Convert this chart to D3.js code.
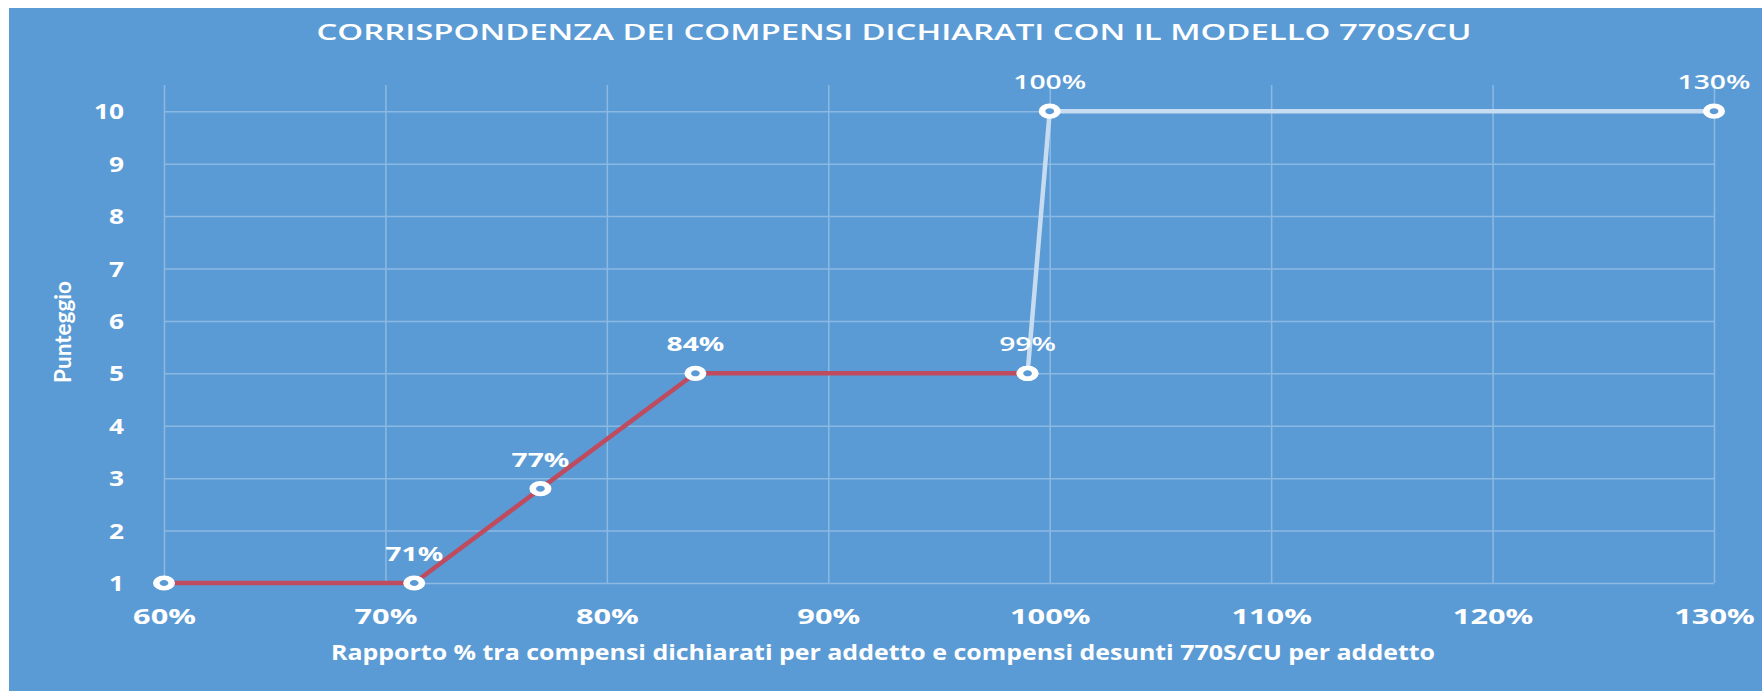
<!DOCTYPE html>
<html>
<head>
<meta charset="utf-8">
<script src="https://cdn.jsdelivr.net/npm/d3@7"></script>
<style>
  html, body { margin: 0; padding: 0; background: #ffffff; }
  svg { display: block; }
</style>
</head>
<body>
<svg id="chart" width="1762" height="691"></svg>
<script>
// Corrispondenza compensi dichiarati / 770S/CU — line chart with D3

var xTicks = [60, 70, 80, 90, 100, 110, 120, 130];
var yTicks = [1, 2, 3, 4, 5, 6, 7, 8, 9, 10];

// red series (punteggio up to 99%)
var redX = [60, 71.3, 77, 84, 99];
var redY = [1, 1, 2.8, 5, 5];
var redLabels = ["", "71%", "77%", "84%", "99%"];

// light series (from 99% to 130%)
var lightX = [99, 100, 130];
var lightY = [5, 10, 10];
var lightLabels = ["", "100%", "130%"];

var titleText = "CORRISPONDENZA DEI COMPENSI DICHIARATI CON IL MODELLO 770S/CU";
var xTitleText = "Rapporto % tra compensi dichiarati per addetto e compensi desunti 770S/CU per addetto";
var yTitleText = "Punteggio";

(function () {
  "use strict";

  var W = 1762, H = 691;
  var BG = "#5b9bd5";
  var GRID = "#8cb9e3";
  var RED = "#bf4b5f";
  var LIGHT = "#c7dcf0";
  var FONT = "'Open Sans', 'Noto Sans', sans-serif";

  var left = 164, right = 1714, bottom = 583, top = 85;

  var svg = d3.select("#chart");

  // panel background
  svg.append("rect")
    .attr("x", 9).attr("y", 8)
    .attr("width", W - 9).attr("height", H - 8)
    .attr("fill", BG);

  var x = d3.scaleLinear().domain([60, 130]).range([left, right]);
  var y = d3.scaleLinear().domain([1, 10.5]).range([bottom, top]);

  // stretch text horizontally like the (widened) original picture
  function stretch(sel, k) {
    sel.each(function () {
      var w = this.getComputedTextLength();
      d3.select(this)
        .attr("textLength", w * k)
        .attr("lengthAdjust", "spacingAndGlyphs");
    });
  }

  // --- Y axis + horizontal grid ---
  var yAxis = svg.append("g")
    .attr("transform", "translate(" + left + ",0)")
    .call(d3.axisLeft(y)
      .tickValues(yTicks)
      .tickSize(-(right - left))
      .tickPadding(40)
      .tickFormat(d3.format("d")));
  yAxis.select(".domain").remove();
  yAxis.selectAll(".tick line")
    .attr("stroke", GRID).attr("stroke-width", 1.5);
  yAxis.selectAll(".tick text")
    .attr("fill", "#ffffff")
    .attr("font-family", FONT)
    .attr("font-weight", 700)
    .attr("font-size", "21px")
    .attr("dy", "0.36em");
  stretch(yAxis.selectAll(".tick text"), 1.25);

  // --- X axis + vertical grid ---
  var xAxis = svg.append("g")
    .attr("transform", "translate(0," + bottom + ")")
    .call(d3.axisBottom(x)
      .tickValues(xTicks)
      .tickSize(-(bottom - top))
      .tickFormat(function (d) { return d + "%"; }));
  xAxis.select(".domain").remove();
  xAxis.selectAll(".tick line")
    .attr("stroke", GRID).attr("stroke-width", 1.5);
  xAxis.selectAll(".tick text")
    .attr("fill", "#ffffff")
    .attr("font-family", FONT)
    .attr("font-weight", 700)
    .attr("font-size", "20.5px")
    .attr("y", 41)
    .attr("dy", 0);
  stretch(xAxis.selectAll(".tick text"), 1.5);

  // --- Lines ---
  var line = d3.line()
    .x(function (d) { return x(d[0]); })
    .y(function (d) { return y(d[1]); });

  var lightPts = lightX.map(function (v, i) { return [v, lightY[i], lightLabels[i]]; });
  var redPts = redX.map(function (v, i) { return [v, redY[i], redLabels[i]]; });

  svg.append("path")
    .datum(lightPts)
    .attr("d", line)
    .attr("fill", "none")
    .attr("stroke", LIGHT)
    .attr("stroke-width", 4.5)
    .attr("stroke-linejoin", "round");

  svg.append("path")
    .datum(redPts)
    .attr("d", line)
    .attr("fill", "none")
    .attr("stroke", RED)
    .attr("stroke-width", 4.5)
    .attr("stroke-linejoin", "round");

  // --- Markers ---
  var allPts = lightPts.concat(redPts);
  svg.append("g").selectAll("circle")
    .data(allPts)
    .enter().append("circle")
    .attr("r", 5.3)
    .attr("transform", function (d) {
      return "translate(" + x(d[0]) + "," + y(d[1]) + ") scale(1.45,1)";
    })
    .attr("fill", BG)
    .attr("stroke", "#ffffff")
    .attr("stroke-width", 4.6);

  // --- Data labels ---
  var labels = svg.append("g").selectAll("text")
    .data(allPts.filter(function (d) { return d[2]; }))
    .enter().append("text")
    .attr("x", function (d) { return x(d[0]); })
    .attr("y", function (d) { return y(d[1]) - 22; })
    .attr("text-anchor", "middle")
    .attr("fill", "#ffffff")
    .attr("font-family", FONT)
    .attr("font-weight", function (d) { return d[0] >= 99 ? 600 : 700; })
    .attr("font-size", "19.5px")
    .text(function (d) { return d[2]; });
  stretch(labels, 1.45);

  // --- Titles ---
  svg.append("text")
    .attr("x", 894).attr("y", 40)
    .attr("text-anchor", "middle")
    .attr("fill", "#ffffff")
    .attr("font-family", FONT)
    .attr("font-weight", 600)
    .attr("font-size", "21.5px")
    .attr("textLength", 1155)
    .attr("lengthAdjust", "spacingAndGlyphs")
    .text(titleText);

  svg.append("text")
    .attr("x", 883).attr("y", 660)
    .attr("text-anchor", "middle")
    .attr("fill", "#ffffff")
    .attr("font-family", FONT)
    .attr("font-weight", 700)
    .attr("font-size", "22px")
    .attr("textLength", 1104)
    .attr("lengthAdjust", "spacingAndGlyphs")
    .text(xTitleText);

  svg.append("text")
    .attr("transform", "translate(71,332) rotate(-90)")
    .attr("text-anchor", "middle")
    .attr("fill", "#ffffff")
    .attr("font-family", "Lato, 'Open Sans', sans-serif")
    .attr("font-weight", 700)
    .attr("font-size", "22px")
    .attr("textLength", 102)
    .attr("lengthAdjust", "spacingAndGlyphs")
    .text(yTitleText);
})();
</script>
</body>
</html>
